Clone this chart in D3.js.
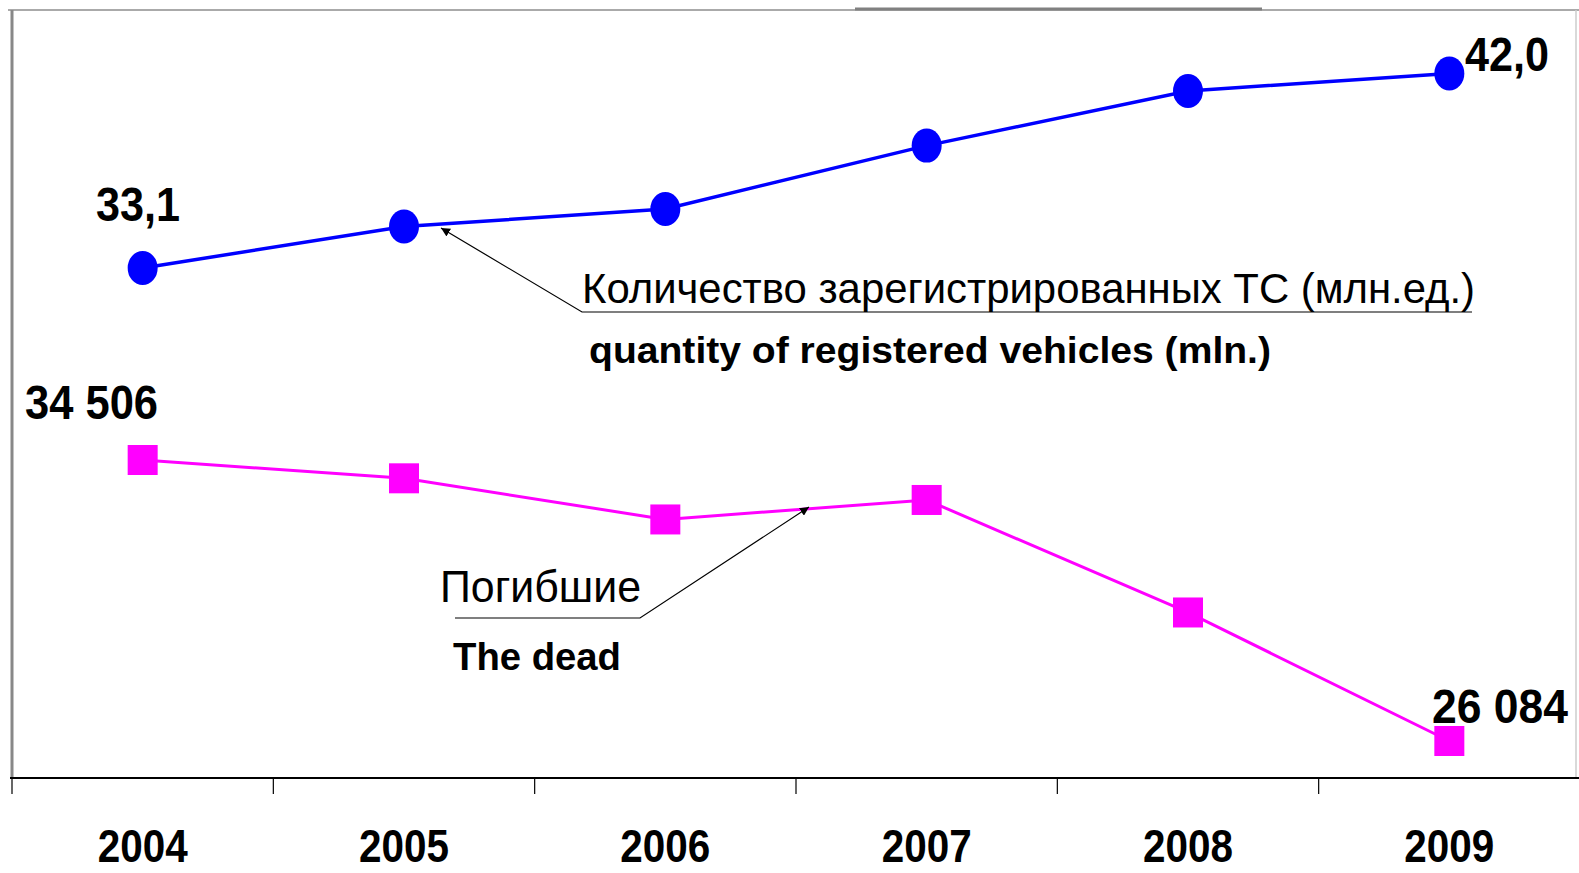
<!DOCTYPE html>
<html>
<head>
<meta charset="utf-8">
<script src="https://cdn.jsdelivr.net/npm/d3@7"></script>
<style>
    body { margin: 0; background: #fff; }
    svg { display: block; }
    text { font-family: "Liberation Sans", Arial, sans-serif; }
</style>
</head>
<body>
<svg id="chart" width="1579" height="873"></svg>
<script>
// chart data
const years = ["2004", "2005", "2006", "2007", "2008", "2009"];
const vehicles = [33.1, 35.0, 35.8, 38.7, 41.2, 42.0];   // registered vehicles, mln
const dead = [34506, 33957, 32724, 33308, 29936, 26084];  // road deaths
const vehicleLabels = ["33,1", "", "", "", "", "42,0"];
const deadLabels = ["34 506", "", "", "", "", "26 084"];

const width = 1579;
const height = 873;
const axisY = 778;

let svg = d3.select("#chart");

let x = d3.scaleBand()
    .domain(years)
    .range([12, 1580])
    .padding(0);

// two independent value scales, each series in its own band of the plot
let yVeh = d3.scaleLinear()
    .domain([33.1, 42.0])
    .range([268, 73.5]);

let yDead = d3.scaleLinear()
    .domain([34506, 26084])
    .range([460, 741]);

let cx = d => x(d) + x.bandwidth() / 2;

// condensed look: squeeze the glyphs to the given width
function squeeze(sel, w) {
    sel.attr("textLength", w).attr("lengthAdjust", "spacingAndGlyphs");
}

// frame
svg.append("line")
    .attr("x1", 8).attr("x2", width)
    .attr("y1", 10).attr("y2", 10)
    .attr("stroke", "#aaa").attr("stroke-width", 2);
svg.append("line")
    .attr("x1", 855).attr("x2", 1262)
    .attr("y1", 9).attr("y2", 9)
    .attr("stroke", "#808080").attr("stroke-width", 3);
svg.append("line")
    .attr("x1", 12).attr("x2", 12)
    .attr("y1", 10).attr("y2", axisY)
    .attr("stroke", "#888").attr("stroke-width", 3);
svg.append("line")
    .attr("x1", 1576).attr("x2", 1576)
    .attr("y1", 10).attr("y2", axisY)
    .attr("stroke", "#ccc").attr("stroke-width", 1.5);

// x axis
svg.append("line")
    .attr("x1", 10).attr("x2", width)
    .attr("y1", axisY).attr("y2", axisY)
    .attr("stroke", "#000").attr("stroke-width", 2);

let tickPos = years.map(d => x(d));
svg.selectAll("line.tick")
    .data(tickPos)
    .enter().append("line")
    .attr("class", "tick")
    .attr("x1", d => d).attr("x2", d => d)
    .attr("y1", axisY).attr("y2", axisY + 16)
    .attr("stroke", "#000").attr("stroke-width", 1.2);

svg.selectAll("text.year")
    .data(years)
    .enter().append("text")
    .attr("class", "year")
    .attr("x", d => cx(d))
    .attr("y", 862)
    .attr("text-anchor", "middle")
    .attr("font-size", 46)
    .attr("font-weight", "bold")
    .call(squeeze, 90)
    .text(d => d);

// vehicles line
let vehLine = d3.line()
    .x((d, i) => cx(years[i]))
    .y(d => yVeh(d));

svg.append("path")
    .datum(vehicles)
    .attr("d", vehLine)
    .attr("fill", "none")
    .attr("stroke", "#0000ff")
    .attr("stroke-width", 3.5);

svg.selectAll("ellipse.veh")
    .data(vehicles)
    .enter().append("ellipse")
    .attr("class", "veh")
    .attr("cx", (d, i) => cx(years[i]))
    .attr("cy", d => yVeh(d))
    .attr("rx", 15)
    .attr("ry", 17)
    .attr("fill", "#0000ff");

// dead line
let deadLine = d3.line()
    .x((d, i) => cx(years[i]))
    .y(d => yDead(d));

svg.append("path")
    .datum(dead)
    .attr("d", deadLine)
    .attr("fill", "none")
    .attr("stroke", "#ff00ff")
    .attr("stroke-width", 3);

svg.selectAll("rect.dead")
    .data(dead)
    .enter().append("rect")
    .attr("class", "dead")
    .attr("x", (d, i) => cx(years[i]) - 15)
    .attr("y", d => yDead(d) - 15)
    .attr("width", 30)
    .attr("height", 30)
    .attr("fill", "#ff00ff");

// value labels
svg.append("text")
    .attr("x", 96).attr("y", yVeh(vehicles[0]) - 47)
    .attr("font-size", 49).attr("font-weight", "bold")
    .call(squeeze, 84)
    .text(vehicleLabels[0]);
svg.append("text")
    .attr("x", 1465).attr("y", yVeh(vehicles[5]) - 3)
    .attr("font-size", 49).attr("font-weight", "bold")
    .call(squeeze, 84)
    .text(vehicleLabels[5]);
svg.append("text")
    .attr("x", 25).attr("y", yDead(dead[0]) - 41)
    .attr("font-size", 49).attr("font-weight", "bold")
    .call(squeeze, 133)
    .text(deadLabels[0]);
svg.append("text")
    .attr("x", 1432).attr("y", yDead(dead[5]) - 18)
    .attr("font-size", 49).attr("font-weight", "bold")
    .call(squeeze, 136)
    .text(deadLabels[5]);

// annotations with leader lines
svg.append("defs").append("marker")
    .attr("id", "arrow")
    .attr("viewBox", "0 0 10 10")
    .attr("refX", 10).attr("refY", 5)
    .attr("markerWidth", 9).attr("markerHeight", 9)
    .attr("markerUnits", "userSpaceOnUse")
    .attr("orient", "auto")
    .append("path")
    .attr("d", "M0,0 L10,5 L0,10 z")
    .attr("fill", "#000");

svg.append("polyline")
    .attr("points", "1472,312 582,312 441,228")
    .attr("fill", "none")
    .attr("stroke", "#000").attr("stroke-width", 1.2)
    .attr("marker-end", "url(#arrow)");
svg.append("text")
    .attr("x", 582).attr("y", 303)
    .attr("font-size", 43)
    .call(squeeze, 893)
    .text("Количество зарегистрированных ТС (млн.ед.)");
svg.append("text")
    .attr("x", 589).attr("y", 363)
    .attr("font-size", 37).attr("font-weight", "bold")
    .call(squeeze, 682)
    .text("quantity of registered vehicles (mln.)");

svg.append("polyline")
    .attr("points", "455,618 640,618 809,507")
    .attr("fill", "none")
    .attr("stroke", "#000").attr("stroke-width", 1.2)
    .attr("marker-end", "url(#arrow)");
svg.append("text")
    .attr("x", 440).attr("y", 602)
    .attr("font-size", 45)
    .call(squeeze, 201)
    .text("Погибшие");
svg.append("text")
    .attr("x", 453).attr("y", 670)
    .attr("font-size", 38).attr("font-weight", "bold")
    .call(squeeze, 168)
    .text("The dead");
</script>
</body>
</html>
